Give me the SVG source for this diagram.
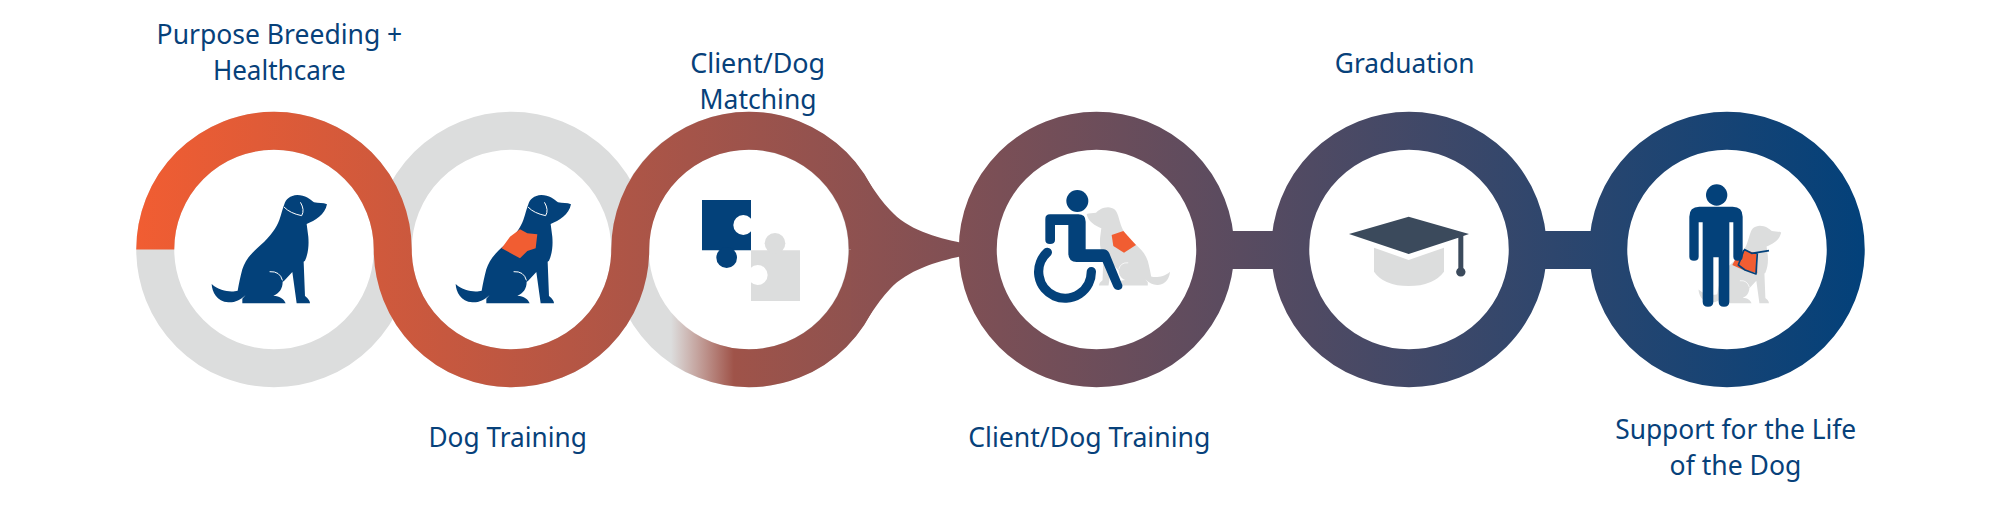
<svg xmlns="http://www.w3.org/2000/svg" xmlns:xlink="http://www.w3.org/1999/xlink" width="2000" height="526" viewBox="0 0 2000 526">
<style>
.label{font-family:"Noto Sans","Open Sans","Liberation Sans",sans-serif;font-size:27px;fill:#07417a}
.gr{fill:none;stroke:#dcdddd;stroke-width:38}
.cr{fill:#fff;stroke:url(#flow);stroke-width:38}
.blue{fill:#03417a}
.grey{fill:#dcdddd}
.orange{fill:#f15d32}
.wl{fill:none;stroke:#fff;stroke-width:3;stroke-linecap:round}
.wg{fill:none;stroke:#fff;stroke-width:3;stroke-linecap:round}
</style>
<defs>
<linearGradient id="flow" gradientUnits="userSpaceOnUse" x1="136" y1="0" x2="1864" y2="0">
<stop offset="0" stop-color="#f15d32"/>
<stop offset="1" stop-color="#03417a"/>
</linearGradient>
<linearGradient id="fade" gradientUnits="userSpaceOnUse" x1="136" y1="0" x2="1864" y2="0">
<stop offset="0.3096" stop-color="#a75547" stop-opacity="0"/>
<stop offset="0.346" stop-color="#9f5349"/>
<stop offset="0.423" stop-color="#8d5250"/>
</linearGradient>
<path id="dogBody" d="M411,103 C400,98 385,100 372,97 C362,88 345,75 322,75 C300,76 287,88 283,103 C278,115 275,130 268,150 C260,172 243,198 212,225 C183,250 166,270 157,298 C151,320 147,340 143,362 C125,367 90,365 65,342 C66,365 80,395 115,397 C135,398 150,390 167,375 L157,386 L157,400 L287,400 C283,388 270,378 250,377 C268,370 278,355 278,335 L282,333 L307,306 L320,400 L360,400 C360,390 350,382 345,378 L341,275 L345,272 C355,250 357,225 355,200 L350,162 C375,152 405,135 411,103 Z"/>
</defs>
<rect width="2000" height="526" fill="#fff"/>

<g id="node-breeding">
<circle class="gr" cx="274" cy="249.5" r="118.75"/>
<g transform="translate(190,170) scale(.3333)">
<use xlink:href="#dogBody" class="blue"/>
<path class="wl" d="M283,112 Q300,130 335,137 Q345,120 332,98"/>
<path class="wl" d="M240,305 Q270,303 277,330"/>
</g>
<text class="label" x="156.6" y="43.6" textLength="245.7" lengthAdjust="spacingAndGlyphs">Purpose Breeding +</text>
<text class="label" x="212.9" y="80" textLength="132.8" lengthAdjust="spacingAndGlyphs">Healthcare</text>
</g>

<g id="node-dog-training">
<circle class="gr" cx="511.5" cy="249.5" r="118.75"/>
<g transform="translate(434,170) scale(.3333)">
<use xlink:href="#dogBody" class="blue"/>
<path class="wl" d="M283,112 Q300,130 335,137 Q345,120 332,98"/>
<path class="wl" d="M240,305 Q270,303 277,330"/>
<path class="orange" d="M258,178 L280,190 L310,193 L305,235 L280,243 L258,265 L203,235 L228,200 Z"/>
</g>
<text class="label" x="428.4" y="447.3" textLength="158.4" lengthAdjust="spacingAndGlyphs">Dog Training</text>
</g>

<g id="node-matching">
<circle class="gr" cx="748.5" cy="249.5" r="118.75"/>
<g transform="translate(680,180) scale(.3333)">
<path class="blue" d="M66,60 H213 V211 H66 Z"/>
<circle class="blue" cx="140" cy="233" r="31"/>
<circle fill="#fff" cx="190" cy="135" r="30"/>
<path class="grey" d="M213,211 H360 V363 H213 Z"/>
<circle class="grey" cx="285" cy="190" r="31"/>
<circle fill="#fff" cx="233" cy="285" r="30"/>
</g>
<text class="label" x="690.2" y="72.8" textLength="135" lengthAdjust="spacingAndGlyphs">Client/Dog</text>
<text class="label" x="699.6" y="109" textLength="117" lengthAdjust="spacingAndGlyphs">Matching</text>
</g>

<g id="node-client-training">
<circle class="cr" cx="1096.5" cy="249.5" r="118.75"/>
<g transform="translate(1185.6,189.3) scale(-.2408,.2408)">
<use xlink:href="#dogBody" class="grey"/>
<path class="wg" d="M240,305 Q270,303 277,330"/>
</g>
<g transform="translate(1020,170) scale(.3333)">
<path class="orange" d="M275,195 L310,183 L348,225 L312,248 L280,228 Z"/>
<circle class="blue" cx="172" cy="93" r="33"/>
<path class="blue" d="M90,133 H175 Q197,133 197,155 V238 H250 Q262,238 268,250 L307,345 Q309,358 295,360 Q285,360 280,350 L248,276 H170 Q145,276 145,250 V165 H105 V210 Q105,222 90,222 Q76,222 76,210 V147 Q76,133 90,133 Z"/>
<path d="M82,247 A79,79 0 1 0 214,305" fill="none" stroke="#03417a" stroke-width="28" stroke-linecap="round"/>
</g>
<text class="label" x="968.3" y="447.3" textLength="242" lengthAdjust="spacingAndGlyphs">Client/Dog Training</text>
</g>

<g id="node-graduation">
<circle class="cr" cx="1409" cy="249.5" r="118.75"/>
<g transform="translate(1330,200) scale(.3333)">
<path class="grey" d="M132,143 L236,180 L342,143 V215 Q310,258 236,258 Q162,258 132,215 Z"/>
<path fill="#3b4a5c" d="M236,50 L417,102 L400,108 V204 A14,14 0 1 1 385,204 V113 L236,162 L57,102 Z"/>
</g>
<text class="label" x="1334.8" y="72.8" textLength="139.8" lengthAdjust="spacingAndGlyphs">Graduation</text>
</g>

<g id="node-support">
<circle class="cr" cx="1727" cy="249.5" r="118.75"/>
<g transform="translate(1683,207.8) scale(.2388)">
<use xlink:href="#dogBody" class="grey"/>
<path class="wg" d="M240,305 Q270,303 277,330"/>
</g>
<g transform="translate(1670,170) scale(.3333)">
<path class="orange" d="M222,240 L260,250 L262,310 L215,298 L187,285 L195,270 Z"/>
<path d="M222,238 L245,250 L297,242 M222,240 L205,285 L225,300 L258,312 L262,250" fill="none" stroke="#03417a" stroke-width="5" stroke-linejoin="round"/>
<circle class="blue" cx="140" cy="75" r="32"/>
<path class="blue" d="M88,110 H188 Q218,110 218,140 V260 Q218,272 204,272 Q190,272 190,260 V157 H178 V395 Q178,410 162,410 Q146,410 146,395 V262 H130 V395 Q130,410 114,410 Q98,410 98,395 V157 H86 V260 Q86,272 72,272 Q58,272 58,260 V140 Q58,110 88,110 Z"/>
</g>
<text class="label" x="1615.2" y="439" textLength="241" lengthAdjust="spacingAndGlyphs">Support for the Life</text>
<text class="label" x="1669.6" y="475" textLength="131.7" lengthAdjust="spacingAndGlyphs">of the Dog</text>
</g>

<g id="connectors">
<path d="M867.75,249.5 A118.75,118.75 0 0 1 630.25,249.5" fill="none" stroke="url(#fade)" stroke-width="38"/>
<path d="M155.25,249.5 A118.75,118.75 0 0 1 392.75,249.5 A118.75,118.75 0 0 0 630.25,249.5 A118.75,118.75 0 0 1 867.75,249.5" fill="none" stroke="url(#flow)" stroke-width="38"/>
<path fill="url(#flow)" d="M851,175 L853,160 C864,172.5 876,196 890,210 C908,230 935,237 962,243 L962,256 C935,262 908,270 890,289 C876,303 864,326.5 853,339 L851,325 Z"/>
<rect fill="url(#flow)" x="1230" y="231" width="46" height="38"/>
<rect fill="url(#flow)" x="1542" y="231" width="51" height="38"/>
</g>
</svg>
